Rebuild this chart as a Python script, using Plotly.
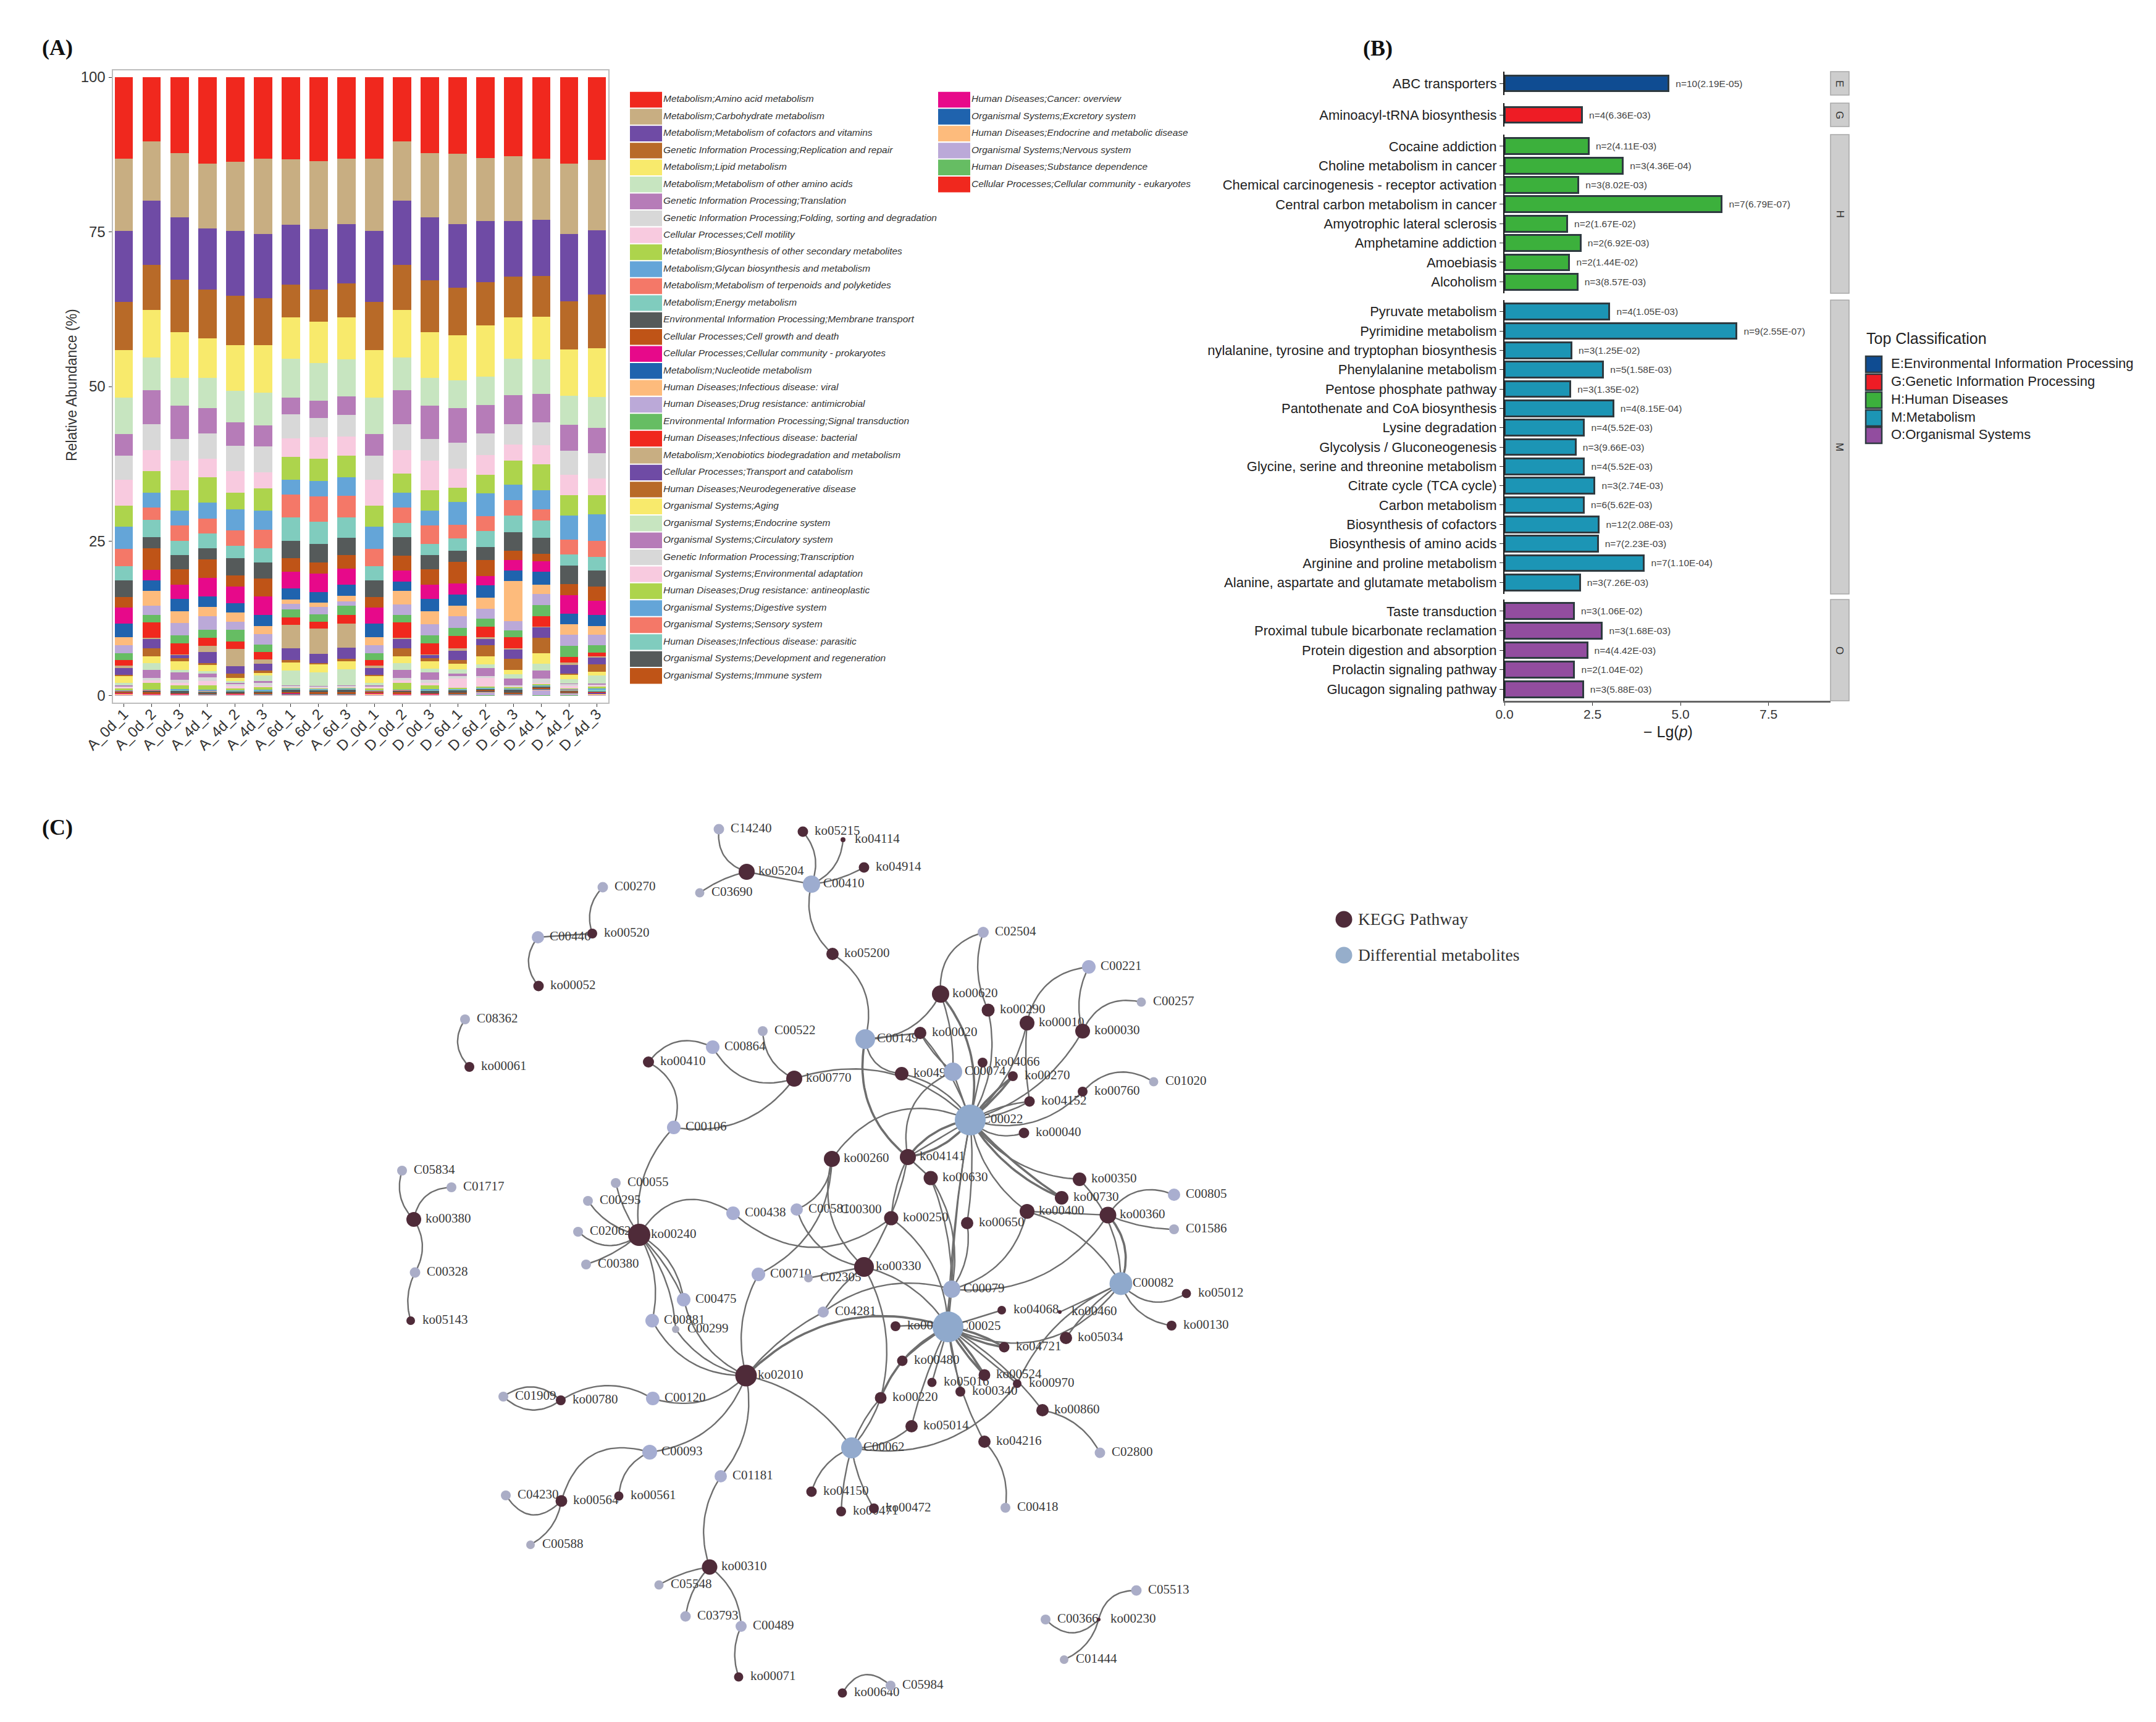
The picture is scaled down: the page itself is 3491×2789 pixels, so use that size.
import numpy as np
import plotly.graph_objects as go

W, H = 3491, 2789

# ---------- Panel A data: relative abundance (%) per sample ----------
samples = ["A_0d_1","A_0d_2","A_0d_3","A_4d_1","A_4d_2","A_4d_3","A_6d_1","A_6d_2","A_6d_3",
           "D_0d_1","D_0d_2","D_0d_3","D_6d_1","D_6d_2","D_6d_3","D_4d_1","D_4d_2","D_4d_3"]
pathway_names = [
 "Metabolism;Amino acid metabolism","Metabolism;Carbohydrate metabolism","Metabolism;Metabolism of cofactors and vitamins",
 "Genetic Information Processing;Replication and repair","Metabolism;Lipid metabolism","Metabolism;Metabolism of other amino acids",
 "Genetic Information Processing;Translation","Genetic Information Processing;Folding, sorting and degradation","Cellular Processes;Cell motility",
 "Metabolism;Biosynthesis of other secondary metabolites","Metabolism;Glycan biosynthesis and metabolism","Metabolism;Metabolism of terpenoids and polyketides",
 "Metabolism;Energy metabolism","Environmental Information Processing;Membrane transport","Cellular Processes;Cell growth and death",
 "Cellular Processes;Cellular community - prokaryotes","Metabolism;Nucleotide metabolism","Human Diseases;Infectious disease: viral",
 "Human Diseases;Drug resistance: antimicrobial","Environmental Information Processing;Signal transduction","Human Diseases;Infectious disease: bacterial",
 "Metabolism;Xenobiotics biodegradation and metabolism","Cellular Processes;Transport and catabolism","Human Diseases;Neurodegenerative disease",
 "Organismal Systems;Aging","Organismal Systems;Endocrine system","Organismal Systems;Circulatory system",
 "Genetic Information Processing;Transcription","Organismal Systems;Environmental adaptation","Human Diseases;Drug resistance: antineoplastic",
 "Organismal Systems;Digestive system","Organismal Systems;Sensory system","Human Diseases;Infectious disease: parasitic",
 "Organismal Systems;Development and regeneration","Organismal Systems;Immune system","Human Diseases;Cancer: overview",
 "Organismal Systems;Excretory system","Human Diseases;Endocrine and metabolic disease","Organismal Systems;Nervous system",
 "Human Diseases;Substance dependence","Cellular Processes;Cellular community - eukaryotes"]
palette = ["#F0281E","#C8AE82","#6F4BA5","#B86A28","#F8EA6C","#C7E5C0","#B67CB8","#D8D8D8","#F8CADF","#ADD44C",
           "#64A5D8","#F47868","#80CCBE","#555A5A","#BF5417","#E7098A","#1F63AE","#FDBB7C","#BBA9D8","#66BD63"]

s01 = [13.2,10.4,12.3,14.0,13.8,13.2,13.2,13.6,13.2,13.2,10.4,12.3,12.3,13.2,12.8,13.2,14.0,13.4]
s02 = [11.7,9.6,10.5,10.6,11.3,12.2,10.6,11.1,10.7,11.7,9.6,10.5,11.3,10.3,10.5,10.0,11.4,11.4]
s03 = [11.5,10.4,10.1,9.9,10.6,10.4,9.6,9.8,9.6,11.5,10.4,10.2,10.3,10.0,9.0,9.1,10.9,10.4]
s04 = [7.8,7.3,8.6,7.9,8.0,7.6,5.3,5.2,5.5,7.8,7.3,8.5,7.6,7.0,6.6,6.6,7.9,8.7]
s05 = [7.7,7.7,7.4,6.4,7.5,7.7,6.7,6.7,6.8,7.7,7.7,7.4,7.3,8.4,6.7,6.9,7.5,7.9]
s06 = [5.9,5.3,4.5,4.9,5.1,5.3,6.3,6.2,6.1,5.9,5.3,4.5,4.5,4.7,5.9,5.6,4.7,5.0]
s07 = [3.5,5.5,5.4,4.2,3.9,3.4,2.6,2.8,3.0,3.5,5.5,5.4,5.5,4.6,4.7,4.7,4.2,4.1]
s08 = [3.9,4.2,3.5,4.1,4.1,4.2,3.9,3.1,3.5,3.9,4.2,3.5,4.2,3.5,3.3,3.7,3.9,4.1]
s09 = [4.2,3.3,4.8,3.0,3.5,2.6,3.0,3.5,3.1,4.2,3.7,4.8,3.1,3.3,2.6,3.1,3.3,2.7]
s10 = [3.4,3.5,3.4,4.1,2.7,3.6,3.7,3.6,3.5,3.4,3.1,3.4,2.3,3.0,3.9,4.2,3.3,3.1]
s11 = [3.6,2.4,2.4,2.6,3.5,3.1,2.4,2.5,3.0,3.6,2.4,2.4,3.6,3.7,2.5,3.1,3.9,4.4]
s12 = [2.8,2.0,2.5,2.4,2.5,3.0,3.7,4.1,3.5,2.8,2.5,3.0,2.2,2.4,2.5,1.8,2.4,2.6]
s13 = [2.3,2.8,2.3,2.4,2.0,2.3,3.7,3.6,3.3,2.3,2.3,1.8,2.0,2.7,2.7,2.8,1.8,2.2]
s14 = [2.7,1.8,2.3,1.8,2.8,2.6,2.8,3.1,2.8,2.7,3.0,2.3,1.8,2.1,3.0,2.6,3.0,2.6]
s15 = [1.7,3.5,2.5,3.0,1.8,2.9,2.2,1.8,2.3,1.7,2.4,2.5,3.5,2.6,1.5,1.2,1.8,2.3]
s16 = [2.6,1.7,2.3,3.0,2.8,3.0,2.7,3.0,2.6,2.6,1.8,2.3,1.8,1.5,1.7,1.7,3.0,2.3]
s17 = [2.2,1.7,2.0,1.7,1.5,1.8,1.8,1.7,1.8,2.2,1.5,2.0,1.8,2.0,1.7,2.1,1.7,1.8]
s18 = [1.3,2.4,1.9,1.5,1.5,1.3,0.7,0.7,0.9,1.3,2.2,2.1,1.7,1.8,6.5,1.5,1.7,1.4]
s19 = [1.3,1.5,2.0,2.2,1.3,1.7,0.9,1.2,0.7,1.3,1.7,1.8,1.8,1.7,1.5,1.8,1.8,1.7]
s20 = [1.1,1.2,1.3,1.3,1.9,1.2,1.3,1.2,1.5,1.1,1.2,1.3,1.3,1.3,1.1,1.8,1.8,1.2]
s21 = [0.9,2.5,1.8,1.3,1.2,1.2,1.2,1.1,1.4,0.9,2.5,1.8,2.0,1.7,1.8,1.7,0.9,0.6]
s22 = [0.4,0.2,0.1,1.1,2.8,0.7,3.8,4.1,3.9,0.4,0.2,0.1,0.4,0.2,0.2,0.1,0.4,0.1]
s23 = [1.1,1.5,0.5,1.8,1.2,1.1,1.8,1.5,1.8,1.1,1.5,0.5,1.5,1.1,1.5,1.7,1.4,1.2]
s24 = [0.2,1.3,0.6,0.3,0.7,0.4,0.4,0.2,0.4,0.2,1.3,0.6,0.6,1.8,1.8,2.6,0.2,1.2]
s25 = [1.1,1.1,1.4,1.0,0.6,0.4,1.3,1.3,1.3,1.1,1.1,1.2,0.9,1.3,0.7,1.7,0.7,0.6]
s26 = [0.4,1.1,0.4,0.4,0.2,0.9,2.4,2.2,2.6,0.4,1.1,0.6,0.7,0.6,0.7,1.1,0.7,1.3]
s27 = [0.1,1.3,1.2,0.6,0.2,0.3,0.1,0.1,0.1,0.1,1.3,1.2,0.4,1.3,1.1,1.3,0.1,0.1]
s28 = [0.2,0.4,0.5,0.6,0.4,0.5,0.2,0.2,0.2,0.2,0.4,0.5,0.4,0.3,0.1,0.7,0.3,0.1]
s29 = [0.1,0.4,0.4,0.7,0.4,0.2,0.1,0.1,0.1,0.1,0.4,0.4,1.5,1.5,0.2,0.2,0.4,0.3]
s30 = [0.4,1.1,0.6,0.7,0.2,0.4,0.1,0.1,0.1,0.4,1.1,0.6,0.1,0.1,0.1,0.1,0.1,0.3]
s31 = [0.05,0.1,0.1,0.1,0.1,0.1,0.05,0.05,0.05,0.05,0.1,0.1,0.1,0.1,0.1,0.1,0.1,0.1]
s32 = [0.05,0.05,0.05,0.1,0.05,0.05,0.05,0.05,0.05,0.05,0.05,0.05,0.05,0.05,0.05,0.05,0.05,0.05]
s33 = [0.05,0.05,0.1,0.1,0.1,0.05,0.05,0.05,0.05,0.05,0.05,0.1,0.05,0.05,0.05,0.05,0.1,0.3]
s34 = [0.1,0.2,0.4,0.2,0.3,0.3,0.5,0.4,0.5,0.1,0.2,0.4,0.5,0.3,0.6,0.3,0.2,0.1]
s35 = [0.2,0.3,0.1,0.1,0.1,0.1,0.2,0.2,0.2,0.2,0.3,0.1,0.1,0.1,0.1,0.1,0.1,0.1]
s36 = [0.05,0.05,0.05,0.05,0.05,0.05,0.05,0.05,0.05,0.05,0.05,0.05,0.05,0.05,0.05,0.05,0.05,0.05]
s37 = [0.05,0.05,0.05,0.1,0.05,0.05,0.05,0.05,0.05,0.05,0.05,0.05,0.05,0.05,0.05,0.05,0.05,0.2]
s38 = [0.2,0.1,0.1,0.1,0.1,0.1,0.1,0.1,0.1,0.2,0.1,0.1,0.1,0.1,0.1,0.1,0.1,0.1]
s39 = [0.05,0.05,0.05,0.05,0.05,0.1,0.1,0.1,0.1,0.05,0.05,0.05,0.1,0.5,0.1,0.9,0.3,0.1]
s40 = [0.05,0.05,0.05,0.05,0.05,0.05,0.05,0.05,0.05,0.05,0.05,0.05,0.05,0.05,0.05,0.05,0.05,0.05]
s41 = [0.02,0.02,0.02,0.02,0.02,0.02,0.02,0.02,0.02,0.02,0.02,0.02,0.02,0.02,0.02,0.02,0.02,0.02]
stack_series = [s01,s02,s03,s04,s05,s06,s07,s08,s09,s10,s11,s12,s13,s14,s15,s16,s17,s18,s19,s20,
                s21,s22,s23,s24,s25,s26,s27,s28,s29,s30,s31,s32,s33,s34,s35,s36,s37,s38,s39,s40,s41]
sample_totals = np.sum(stack_series, axis=0)

# ---------- Panel B data ----------
facet_e_terms = ["ABC transporters"]
facet_e_vals = [4.66]
facet_e_text = ["n=10(2.19E-05)"]
facet_g_terms = ["Aminoacyl-tRNA biosynthesis"]
facet_g_vals = [2.20]
facet_g_text = ["n=4(6.36E-03)"]
facet_h_terms = ["Cocaine addiction","Choline metabolism in cancer","Chemical carcinogenesis - receptor activation",
                 "Central carbon metabolism in cancer","Amyotrophic lateral sclerosis","Amphetamine addiction","Amoebiasis","Alcoholism"]
facet_h_vals = [2.39,3.36,2.10,6.17,1.78,2.16,1.84,2.07]
facet_h_text = ["n=2(4.11E-03)","n=3(4.36E-04)","n=3(8.02E-03)","n=7(6.79E-07)","n=2(1.67E-02)","n=2(6.92E-03)","n=2(1.44E-02)","n=3(8.57E-03)"]
facet_m_terms = ["Pyruvate metabolism","Pyrimidine metabolism","nylalanine, tyrosine and tryptophan biosynthesis",
                 "Phenylalanine metabolism","Pentose phosphate pathway","Pantothenate and CoA biosynthesis","Lysine degradation",
                 "Glycolysis / Gluconeogenesis","Glycine, serine and threonine metabolism","Citrate cycle (TCA cycle)","Carbon metabolism",
                 "Biosynthesis of cofactors","Biosynthesis of amino acids","Arginine and proline metabolism","Alanine, aspartate and glutamate metabolism"]
facet_m_vals = [2.98,6.59,1.90,2.80,1.87,3.09,2.26,2.02,2.26,2.56,2.25,2.68,2.65,3.96,2.14]
facet_m_text = ["n=4(1.05E-03)","n=9(2.55E-07)","n=3(1.25E-02)","n=5(1.58E-03)","n=3(1.35E-02)","n=4(8.15E-04)","n=4(5.52E-03)",
                "n=3(9.66E-03)","n=4(5.52E-03)","n=3(2.74E-03)","n=6(5.62E-03)","n=12(2.08E-03)","n=7(2.23E-03)","n=7(1.10E-04)","n=3(7.26E-03)"]
facet_o_terms = ["Taste transduction","Proximal tubule bicarbonate reclamation","Protein digestion and absorption",
                 "Prolactin signaling pathway","Glucagon signaling pathway"]
facet_o_vals = [1.97,2.77,2.35,1.98,2.23]
facet_o_text = ["n=3(1.06E-02)","n=3(1.68E-03)","n=4(4.42E-03)","n=2(1.04E-02)","n=3(5.88E-03)"]
facet_letters = ["E","G","H","M","O"]
class_names = ["E:Environmental Information Processing","G:Genetic Information Processing","H:Human Diseases","M:Metabolism","O:Organismal Systems"]
class_colors = ["#0F4C92","#EE1C25","#3CB03C","#1C95B5","#924D9F"]

# ---------- Panel C data: network layout ----------
kegg_names = ["ko05215","ko04114","ko05204","ko04914","ko00520","ko00052","ko00061","ko05200","ko00410","ko00770",
              "ko00620","ko00020","ko04922","ko00260","ko04141","ko00630","ko00240","ko00250","ko00650","ko00330",
              "ko00380","ko05143","ko00290","ko00010","ko00030","ko04066","ko00270","ko00760","ko04152","ko00040",
              "ko00350","ko00730","ko00400","ko00360","ko00830","ko04068","ko00460","ko05034","ko04721","ko00480",
              "ko00524","ko05016","ko00970","ko00340","ko00220","ko00860","ko02010","ko05014","ko04216","ko00561",
              "ko04150","ko00471","ko00472","ko00310","ko00564","ko00071","ko00230","ko00640","ko05012","ko00130","ko00780"]
kegg_x = [1300,1365,1209,1399,959,872,760,1348,1050,1286,
          1523,1490,1460,1347,1470,1507,1035,1443,1566,1399,
          670,665,1600,1663,1753,1591,1640,1753,1667,1658,
          1748,1719,1663,1794,1450,1622,1716,1726,1626,1461,
          1594,1509,1647,1555,1426,1688,1208,1476,1594,1002,
          1314,1362,1415,1149,909,1196,1779,1364,1921,1897,908]
kegg_y = [1347,1360,1412,1405,1512,1597,1728,1545,1720,1747,
          1610,1673,1739,1877,1874,1908,2000,1973,1981,2052,
          1975,2139,1636,1657,1670,1721,1743,1768,1784,1835,
          1910,1940,1962,1968,2148,2122,2125,2167,2182,2204,
          2227,2239,2241,2254,2264,2284,2228,2310,2335,2423,
          2416,2448,2443,2538,2431,2716,2623,2742,2095,2147,2268]
kegg_size = [17,8,26,17,16,17,16,20,18,26,
             28,20,22,26,26,23,36,23,20,32,
             24,14,21,24,24,16,16,16,17,17,
             22,22,24,27,16,14,6,20,17,17,
             19,15,14,16,19,20,35,20,20,15,
             17,16,16,25,19,15,6,15,15,16,16]
met_names = ["C14240","C03690","C00410","C00270","C00446","C08362","C00522","C00864","C00106","C00149",
             "C00074","C00022","C00055","C00295","C02062","C00380","C00438","C00581","C00300","C05834",
             "C01717","C00328","C02504","C00221","C00257","C01020","C00805","C01586","C00082","C00710",
             "C02305","C00079","C00475","C04281","C00881","C00299","C00025","C00120","C01909","C02800",
             "C00062","C00093","C01181","C00418","C04230","C00588","C05548","C03793","C00489","C05513",
             "C00366","C01444","C05984"]
met_x = [1164,1133,1314,976,871,753,1235,1154,1091,1401,
         1543,1571,997,952,936,949,1187,1290,1342,651,
         731,672,1592,1763,1848,1868,1901,1901,1815,1228,
         1309,1541,1107,1333,1056,1094,1535,1057,815,1781,
         1379,1052,1167,1628,819,859,1067,1110,1200,1840,
         1693,1723,1442]
met_y = [1343,1446,1432,1437,1518,1651,1670,1696,1826,1683,
         1736,1814,1916,1945,1995,2048,1965,1959,1960,1896,
         1923,2061,1510,1566,1623,1752,1935,1991,2079,2064,
         2070,2088,2105,2125,2139,2153,2149,2265,2262,2353,
         2345,2352,2391,2442,2422,2502,2567,2618,2634,2576,
         2623,2688,2730]
met_size = [17,15,28,17,20,16,16,22,22,32,
            30,50,16,16,16,16,22,20,5,16,
            16,17,18,22,15,15,20,16,37,22,
            14,28,22,18,22,12,50,22,16,17,
            34,24,20,16,16,14,15,17,18,17,
            16,14,16]

edges_north = [("C14240","ko05204",.2),("ko05204","C03690",.05),("ko05204","C00410",0),("C00410","ko05215",.15),
               ("C00410","ko04114",.15),("C00410","ko04914",.05),("C00410","ko05200",.15),("ko05200","C00149",-.18),
               ("C00270","ko00520",.15),("C00446","ko00052",.2),("C00446","ko00520",0),("C08362","ko00061",.2),
               ("ko00380","C05834",-.15),("ko00380","C01717",-.2),("ko00380","C00328",-.15),("C00328","ko05143",.1)]
edges_c00022 = [("C00149","ko00620",.15),("C00149","ko04922",.2),("C00149","ko00020",0),("C02504","ko00620",.2),
                ("C02504","ko00290",.1),("ko00620","C00074",-.05),("ko00020","C00074",.05),("ko00290","C00022",-.1),
                ("ko00010","C00221",-.18),("ko00030","C00221",-.1),("ko00030","C00257",-.2),("ko00010","C00022",-.08),
                ("ko00010","ko04152",.03),("ko00030","C00022",-.1),("ko04066","C00022",0),("ko04152","C00022",.05),
                ("ko04152","C00022",-.05),("ko00760","C00022",-.15),("ko00760","C01020",-.2),("ko00040","C00022",-.15),
                ("ko00350","C00022",-.12),("ko00350","C00082",-.1),("ko00400","C00022",-.1),("ko00260","C00022",-.2),
                ("ko04141","C00022",0),("ko04141","ko00630",0),("C00074","ko04141",.2),("ko04922","C00022",-.1),
                ("ko00770","C00022",-.15),("C00074","C00022",0),("ko00020","C00022",-.05),("ko00650","C00022",.03),
                ("C00022","C00079",.02),("C00022","C00025",.02)]
edges_c00022_thick = [("C00149","ko04141",.15),("ko00620","C00022",-.12),("ko00270","C00022",.03),("ko00270","C00022",-.03),
                      ("ko00730","C00022",-.08),("ko00730","C00022",-.03),("ko04141","C00022",.1),("ko04141","C00022",-.1),
                      ("ko00360","C00082",-.15)]
edges_west = [("ko00770","C00864",-.2),("ko00770","C00522",-.15),("ko00770","C00106",-.15),("ko00410","C00864",-.2),
              ("ko00410","C00106",-.2),("C00106","ko00240",.12),("C00055","ko00240",.05),("C00295","ko00240",.1),
              ("C02062","ko00240",.2),("C00380","ko00240",.05),("C00438","ko00240",.25),("C00438","ko00250",.2),
              ("ko00240","C00475",-.12),("ko00240","C00475",-.05),("ko00240","C00881",-.1),("ko00240","C00299",-.08),
              ("C00881","ko02010",.15),("C00475","ko02010",.12),("C00299","ko02010",.1),("C00710","ko00260",.15),
              ("C00710","ko02010",.1),("C00581","ko00260",.15),("C00581","ko00330",.15),("ko00260","ko00330",.15),
              ("ko04141","ko00330",-.05),("ko04141","ko00250",.05),("ko00250","C00025",-.12),("ko00330","C00025",-.1),
              ("ko00330","C02305",0),("ko00330","C04281",.05),("ko00330","ko00220",-.1),("ko00630","C00079",-.1),
              ("ko00630","C00079",-.05),("ko00650","C00079",-.1),("ko00400","C00079",-.15),("C00079","C04281",.12),
              ("C04281","ko02010",.05),("C00079","C00025",0),("C00079","C00025",.05),("ko00400","ko00360",0),
              ("ko00400","C00082",-.1),("ko00360","C00805",-.2),("ko00360","C01586",.05),("ko00360","C00079",-.15)]
edges_south = [("ko02010","C00062",-.1),("ko02010","C00120",-.15),("ko02010","C00093",-.15),("ko02010","C01181",-.12),
               ("C00120","ko00780",.15),("ko00780","C01909",.2),("ko00780","C01909",-.2),("C01181","ko00310",.12),
               ("ko00310","C05548",.05),("ko00310","C03793",.08),("ko00310","C00489",-.12),("C00489","ko00071",.1),
               ("C00093","ko00564",.25),("C00093","ko00561",.15),("C04230","ko00564",.3),("ko00564","C00588",-.12),
               ("C05513","ko00230",.2),("ko00230","C01444",-.12),("C00366","ko00230",.25),("ko00640","C05984",-.3),
               ("C00025","C00082",.2),("ko04068","C00025",0),("C00082","ko00460",0),("C00082","ko05034",.05),
               ("C00082","ko00970",.1),("C00082","ko05012",.2),("C00082","ko00130",.15),("C00025","ko00830",.02),
               ("C00025","ko00480",.03),("C00025","ko05016",0),("C00025","ko00970",0),("C00025","ko00340",0),
               ("C00025","ko05014",.03),("C00025","ko04216",.05),("ko00860","C00025",.05),("ko00220","C00062",.05),
               ("ko00220","C00062",-.05),("ko05014","C00062",-.1),("ko00970","C00062",-.15),("C00062","ko04150",.12),
               ("C00062","ko00471",.03),("C00062","ko00472",.05),("ko00860","C02800",-.12),("ko04216","C00418",-.12)]
edges_south_thick = [("C00025","ko02010",.15),("C00025","ko04721",.05),("C00025","ko04721",-.05),("C00025","ko00524",.03),
                     ("C00025","ko00524",-.03),("C00025","ko00220",.1)]
legend_c_names = ["KEGG Pathway","Differential metabolites"]

# ---------- helpers ----------
def dx(a, b):
    return [a / W, b / W]
def dy(top, bot):
    return [1 - bot / H, 1 - top / H]

fig = go.Figure()
LAYOUT = dict(template="none", width=W, height=H, margin=dict(l=0, r=0, t=0, b=0, pad=0), autosize=False,
              plot_bgcolor="rgba(0,0,0,0)", paper_bgcolor="white", showlegend=False,
              barmode="stack", bargap=0.34,
              font=dict(family="Liberation Sans", color="#333333"))

# Panel A
for name, vals, i in list(zip(pathway_names, stack_series, range(len(stack_series))))[::-1]:
    fig.add_trace(go.Bar(x=samples, y=np.array(vals) / sample_totals * 100, name=name,
                         marker=dict(color=palette[i % 20], line=dict(width=0)), xaxis="x", yaxis="y"))
LAYOUT["xaxis"] = dict(domain=dx(182.5, 985), range=[-0.4, 17.41], type="category", categoryorder="array",
                       categoryarray=samples, tickangle=-45, tickfont=dict(size=24, color="#333333"),
                       showline=True, mirror=True, linecolor="#BDBDBD", linewidth=2, showgrid=False,
                       ticks="outside", ticklen=5, tickcolor="#333333", zeroline=False, anchor="y", automargin=False,
                       ticklabelstandoff=-12)
LAYOUT["yaxis"] = dict(domain=dy(114, 1138), range=[-1.1, 101.1], tickvals=[0, 25, 50, 75, 100],
                       tickfont=dict(size=24, color="#333333"), showline=True, mirror=True, linecolor="#BDBDBD",
                       linewidth=2, showgrid=False, ticks="outside", ticklen=5, tickcolor="#333333", zeroline=False,
                       anchor="x", automargin=False)

# Panel B facets
facets = [(facet_e_terms, facet_e_vals, facet_e_text, 116, 154),
          (facet_g_terms, facet_g_vals, facet_g_text, 167, 205),
          (facet_h_terms, facet_h_vals, facet_h_text, 218, 475),
          (facet_m_terms, facet_m_vals, facet_m_text, 486, 962),
          (facet_o_terms, facet_o_vals, facet_o_text, 971, 1135)]
annotations = []
shapes = []
OVER = dict(xref="x7", yref="y7")
for k, (terms, vals, txt, top, bot) in enumerate(facets):
    ax = k + 2
    fig.add_trace(go.Bar(y=terms, x=vals, orientation="h", text=["\u00a0\u00a0" + t for t in txt], textposition="outside",
                         cliponaxis=False, textangle=0, constraintext="none",
                         textfont=dict(size=15.5, color="#444444"),
                         width=0.82, marker=dict(color=class_colors[k], line=dict(color="#2E3A40", width=3)),
                         xaxis=f"x{ax}", yaxis=f"y{ax}"))
    last = k == len(facets) - 1
    LAYOUT[f"xaxis{ax}"] = dict(domain=dx(2436, 2964), range=[0, 9.26], anchor=f"y{ax}", showgrid=False, zeroline=False,
                                visible=last, showline=last, linecolor="#666666", linewidth=3, tickvals=[0, 2.5, 5, 7.5],
                                ticktext=["0.0", "2.5", "5.0", "7.5"], ticks="outside", ticklen=5, tickcolor="#333333",
                                tickfont=dict(size=21, color="#333333"), automargin=False, ticklabelstandoff=-4)
    LAYOUT[f"yaxis{ax}"] = dict(domain=dy(top, bot), range=[len(terms) - 0.4, -0.6], type="category", anchor=f"x{ax}",
                                categoryorder="array", categoryarray=terms, showgrid=False, zeroline=False, showline=True,
                                linecolor="#111111", linewidth=2, ticks="outside", ticklen=6, tickcolor="#222222",
                                tickfont=dict(size=22, color="#222222"), automargin=False)
    shapes.append(dict(type="rect", x0=2964, x1=2994, y0=top, y1=bot, fillcolor="#CDCDCD",
                       line=dict(color="#A8A8A8", width=1.5), layer="below", **OVER))
    annotations.append(dict(x=2979, y=(top + bot) / 2, text=facet_letters[k], showarrow=False, textangle=90,
                            font=dict(size=17, color="#333333"), **OVER))

# Full-figure overlay axis, in image units, for legends and the network
LAYOUT["xaxis7"] = dict(domain=[0, 1], range=[0, W], visible=False, anchor="y7", fixedrange=True, automargin=False)
LAYOUT["yaxis7"] = dict(domain=[0, 1], range=[H, 0], visible=False, anchor="x7", fixedrange=True, automargin=False)

annotations.append(dict(x=116, y=624, text="Relative Abundance (%)", showarrow=False, textangle=-90,
                        font=dict(size=23, color="#333333"), **OVER))
annotations.append(dict(x=2701, y=1185, text="− Lg(<i>p</i>)", showarrow=False,
                        font=dict(size=25, color="#222222"), **OVER))
annotations.append(dict(x=3020, y=548, xanchor="left", text="Top Classification", showarrow=False,
                        font=dict(size=25, color="#222222"), **OVER))
for lab, x, y in [("(A)", 93, 77), ("(B)", 2231, 78), ("(C)", 93, 1340)]:
    annotations.append(dict(x=x, y=y, text=f"<b>{lab}</b>", showarrow=False,
                            font=dict(family="Liberation Serif", size=36, color="#111111"), **OVER))

# Panel A legend
n_left = 35
leg_x, leg_y, leg_txt = [], [], []
for i, name in enumerate(pathway_names):
    col0 = i < n_left
    sx = 1020 if col0 else 1519
    sy = 161.5 + 27.45 * (i if col0 else i - n_left)
    shapes.append(dict(type="rect", x0=sx, x1=sx + 52, y0=sy - 12.7, y1=sy + 12.7, fillcolor=palette[i % 20],
                       line=dict(width=0), **OVER))
    leg_x.append(sx + 54)
    leg_y.append(sy)
    leg_txt.append(name)
fig.add_trace(go.Scatter(x=leg_x, y=leg_y, text=leg_txt, mode="text", textposition="middle right", cliponaxis=False,
                         textfont=dict(size=15.5, style="italic", color="#333333"), xaxis="x7", yaxis="y7"))

# Panel B legend
cls_y = [590, 619, 648, 677, 705]
fig.add_trace(go.Scatter(x=[3034] * 5, y=cls_y, mode="markers", xaxis="x7", yaxis="y7",
                         marker=dict(symbol="square", size=26, color=class_colors, line=dict(color="#2E3A40", width=2.5))))
fig.add_trace(go.Scatter(x=[3062] * 5, y=cls_y, text=class_names, mode="text", textposition="middle right", cliponaxis=False,
                         textfont=dict(size=22, color="#222222"), xaxis="x7", yaxis="y7"))

# Panel C network
pos = {n: (x, y) for n, x, y in zip(kegg_names + met_names, kegg_x + met_x, kegg_y + met_y)}
def curve(edges):
    xs, ys = [], []
    for a, b, bend in edges:
        p0, p2 = np.array(pos[a], float), np.array(pos[b], float)
        d = p2 - p0
        ctrl = (p0 + p2) / 2 + 2 * bend * np.array([-d[1], d[0]])
        t = np.linspace(0, 1, 26)[:, None]
        pts = (1 - t) ** 2 * p0 + 2 * t * (1 - t) * ctrl + t ** 2 * p2
        xs += pts[:, 0].tolist() + [None]
        ys += pts[:, 1].tolist() + [None]
    return xs, ys

ex, ey = curve(edges_north + edges_c00022 + edges_west + edges_south)
fig.add_trace(go.Scatter(x=ex, y=ey, mode="lines", line=dict(color="#6E6E6E", width=2.4), xaxis="x7", yaxis="y7"))
ex, ey = curve(edges_c00022_thick + edges_south_thick)
fig.add_trace(go.Scatter(x=ex, y=ey, mode="lines", line=dict(color="#6E6E6E", width=3.6), xaxis="x7", yaxis="y7"))
all_names = kegg_names + met_names
fig.add_trace(go.Scatter(x=[x + 19 for x in kegg_x + met_x], y=kegg_y + met_y, text=all_names, mode="text",
                         textposition="middle right", cliponaxis=False,
                         textfont=dict(family="Liberation Serif", size=21, color="#3A3A3A"), xaxis="x7", yaxis="y7"))
fig.add_trace(go.Scatter(x=kegg_x, y=kegg_y, mode="markers", xaxis="x7", yaxis="y7",
                         marker=dict(size=kegg_size, color="#4F2B39", opacity=1, line=dict(width=0))))
fig.add_trace(go.Scatter(x=met_x, y=met_y, mode="markers", xaxis="x7", yaxis="y7",
                         marker=dict(size=met_size, color=met_size, cmin=12, cmax=36, opacity=1,
                                     colorscale=[[0, "#ABACBE"], [0.4, "#A9AED2"], [1, "#8FA9CC"]], line=dict(width=0))))

# Panel C legend
fig.add_trace(go.Scatter(x=[2176, 2176], y=[1489, 1547], mode="markers", xaxis="x7", yaxis="y7",
                         marker=dict(size=27, color=["#4F2B39", "#96AECB"], line=dict(width=0))))
fig.add_trace(go.Scatter(x=[2199, 2199], y=[1491, 1549], text=legend_c_names, mode="text", textposition="middle right",
                         cliponaxis=False, textfont=dict(family="Liberation Serif", size=27.5, color="#333333"),
                         xaxis="x7", yaxis="y7"))

LAYOUT["shapes"] = shapes
LAYOUT["annotations"] = annotations
fig.update_layout(**LAYOUT)
fig.write_html("out.html", config=dict(displayModeBar=False),
               post_script="document.body.style.margin='0';document.documentElement.style.overflow='hidden';")
